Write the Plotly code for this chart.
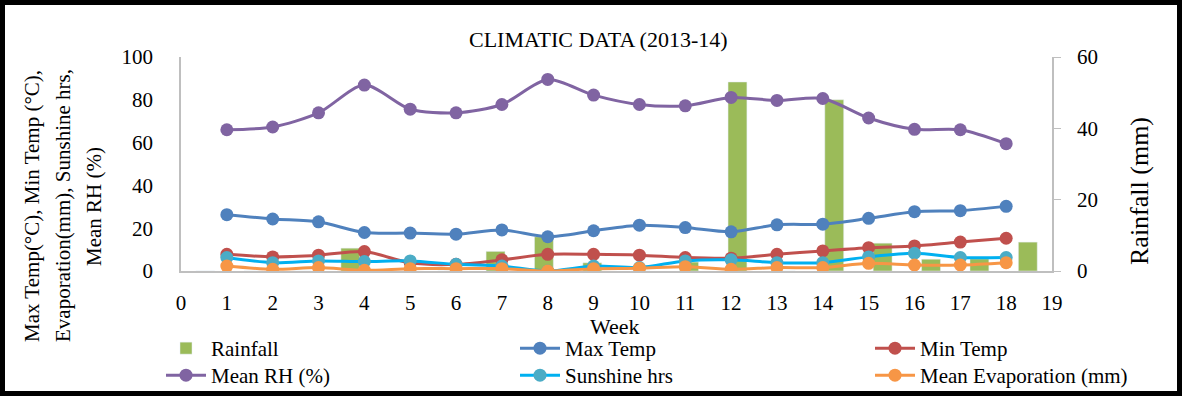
import plotly.graph_objects as go

weeks = list(range(1, 19))
rainfall = [0, 0, 0, 6.4, 0, 0, 5.5, 9.6, 2.3, 0, 2.5, 53, 0, 48, 7.8, 3.3, 3.4, 8.1]
max_temp = [26.3, 24.3, 23.0, 18.0, 17.7, 17.2, 19.2, 16.0, 18.8, 21.4, 20.3, 18.3, 21.6, 21.9, 24.6, 27.7, 28.2, 30.2]
min_temp = [7.8, 6.6, 7.4, 9.1, 3.8, 3.1, 5.2, 7.8, 7.8, 7.4, 6.3, 6.0, 7.8, 9.4, 10.9, 11.7, 13.5, 15.3]
mean_rh = [66.0, 67.3, 73.9, 86.9, 75.6, 73.9, 77.8, 89.5, 82.2, 77.8, 77.2, 81.1, 79.7, 80.6, 71.5, 66.2, 66.0, 59.5]
sunshine = [6.3, 3.9, 4.7, 4.4, 4.7, 3.1, 2.3, 0.0, 2.3, 1.6, 4.7, 5.2, 3.9, 3.9, 6.6, 8.3, 6.3, 6.3]
evaporation = [2.3, 0.8, 1.6, 0.3, 1.1, 1.1, 1.1, 0.0, 1.1, 1.3, 2.0, 0.8, 1.6, 1.6, 3.6, 2.8, 2.8, 3.9]
x_ticks = list(range(0, 20))

FONT = "Liberation Serif, Times New Roman, Times, DejaVu Serif, serif"
FW, FH = 1182, 396
L, R, T, B = 181, 1052, 57, 271


def cx(x):
    return x / FW


def cy(y):
    return 1 - y / FH


fig = go.Figure()

fig.add_trace(go.Bar(x=weeks, y=rainfall, name="Rainfall", marker_color="#9BBB59",
                     width=0.39, xaxis="x", yaxis="y", legend="legend"))


def line(name, y, lc, mc, lg):
    fig.add_trace(go.Scatter(x=weeks, y=y, name=name, mode="lines+markers",
                             line=dict(color=lc, width=3, shape="spline", smoothing=0.8),
                             marker=dict(color=mc, size=13),
                             xaxis="x2", yaxis="y2", legend=lg))


line("Max Temp", max_temp, "#4F81BD", "#4F81BD", "legend2")
line("Min Temp", min_temp, "#C0504D", "#C0504D", "legend3")
line("Mean RH (%)", mean_rh, "#8064A2", "#8064A2", "legend4")
line("Sunshine hrs", sunshine, "#00B0F0", "#4BACC6", "legend5")
line("Mean Evaporation (mm)", evaporation, "#F79646", "#F79646", "legend6")

legend_common = dict(orientation="v", yanchor="top", xanchor="left",
                     xref="container", yref="container",
                     font=dict(family=FONT, size=21, color="black"),
                     bgcolor="rgba(0,0,0,0)", tracegroupgap=0, itemwidth=40)

axis_common = dict(showline=True, linecolor="#BFBFBF", linewidth=1.5,
                   showgrid=False, zeroline=False, automargin=False,
                   tickfont=dict(family=FONT, size=21, color="black"))

ROW1, ROW2 = 328, 355
COLS = [161, 515, 870]

fig.update_layout(
    width=FW, height=FH,
    margin=dict(l=L, r=FW - R, t=T, b=FH - B, autoexpand=False),
    paper_bgcolor="white", plot_bgcolor="white",
    showlegend=True,
    font=dict(family=FONT, size=20, color="black"),
    xaxis=dict(range=[0.5, 18.5], visible=False),
    yaxis=dict(range=[0, 60], side="right", tickvals=[0, 20, 40, 60],
               ticks="outside", ticklen=7, tickcolor="#BFBFBF", ticklabelstandoff=12,
               **axis_common),
    xaxis2=dict(overlaying="x", range=[0, 19], tickvals=x_ticks, side="bottom",
                ticks="", ticklabelstandoff=12, **axis_common),
    yaxis2=dict(overlaying="y", range=[0, 100], side="left",
                tickvals=[0, 20, 40, 60, 80, 100],
                ticks="", ticklabelstandoff=22, **axis_common),
    legend=dict(x=cx(COLS[0]), y=cy(ROW1), **legend_common),
    legend2=dict(x=cx(COLS[1]), y=cy(ROW1), **legend_common),
    legend3=dict(x=cx(COLS[2]), y=cy(ROW1), **legend_common),
    legend4=dict(x=cx(COLS[0]), y=cy(ROW2), **legend_common),
    legend5=dict(x=cx(COLS[1]), y=cy(ROW2), **legend_common),
    legend6=dict(x=cx(COLS[2]), y=cy(ROW2), **legend_common),
)

annotations = [
    dict(text="CLIMATIC DATA (2013-14)", x=598, y=40, font=dict(size=22)),
    dict(text="Week", x=615, y=326, font=dict(size=22)),
    dict(text="Rainfall (mm)", x=1139, y=191, textangle=-90, font=dict(size=26)),
    dict(text="Max Temp(°C), Min Temp (°C),", x=32, y=206, textangle=-90, font=dict(size=21)),
    dict(text="Evaporation(mm), Sunshine hrs,", x=63, y=206, textangle=-90, font=dict(size=21)),
    dict(text="Mean RH (%)", x=94, y=207, textangle=-90, font=dict(size=21)),
]
W, H = R - L, B - T
for a in annotations:
    a.update(xref="paper", yref="paper", showarrow=False, xanchor="center", yanchor="middle")
    a["font"].update(family=FONT, color="black")
    a["x"] = (a["x"] - L) / W
    a["y"] = (B - a["y"]) / H
fig.update_layout(annotations=annotations)

fig.add_shape(type="rect", xref="paper", yref="paper",
              x0=(2.5 - L) / W, x1=(1179.5 - L) / W, y0=(B - 393.5) / H, y1=(B - 2.5) / H,
              line=dict(color="black", width=5), fillcolor="rgba(0,0,0,0)", layer="above")

fig.write_html("out.html", config={"displayModeBar": False},
               post_script="document.body.style.margin='0';")
